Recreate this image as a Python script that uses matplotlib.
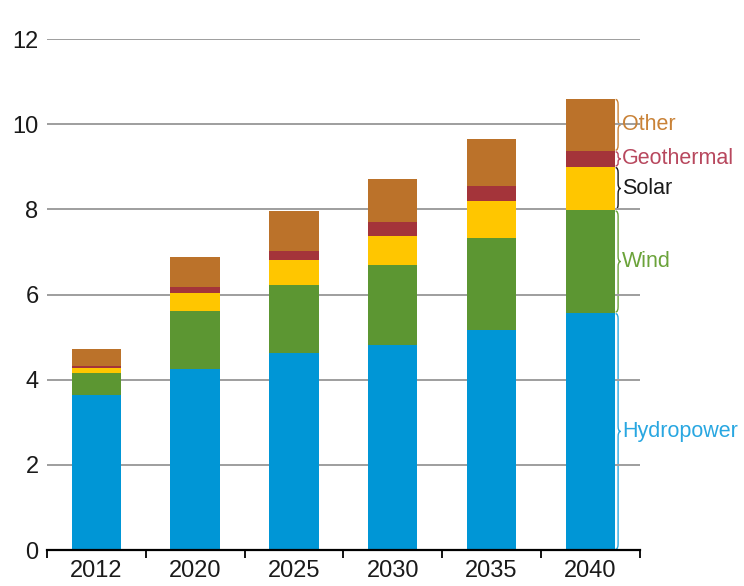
import matplotlib.pyplot as plt
from matplotlib.path import Path
from matplotlib.patches import PathPatch

plt.rcParams['font.family'] = ['Liberation Sans', 'DejaVu Sans']

years = ["2012", "2020", "2025", "2030", "2035", "2040"]
hydropower = [3.64, 4.25, 4.62, 4.81, 5.16, 5.57]
wind = [0.51, 1.37, 1.60, 1.88, 2.16, 2.41]
solar = [0.12, 0.41, 0.60, 0.68, 0.87, 1.02]
geothermal = [0.05, 0.14, 0.20, 0.33, 0.35, 0.37]
other = [0.40, 0.71, 0.94, 1.01, 1.11, 1.23]

series = [
    ("Hydropower", hydropower, "#0096D6", "#29A7E1"),
    ("Wind", wind, "#5C9632", "#6BA33A"),
    ("Solar", solar, "#FFC600", "#1A1A1A"),
    ("Geothermal", geothermal, "#A4343A", "#B8485E"),
    ("Other", other, "#BB722A", "#C98237"),
]


def brace(ax, x, y0, y1, color, w=0.025):
    # curly brace opening to the left, pointing right
    ym = (y0 + y1) / 2
    h = (y1 - y0)
    k = min(0.12, h * 0.2)
    verts = [
        (x, y0), (x + w, y0), (x + w, y0 + k), (x + w, y0 + k),
        (x + w, ym - k), (x + w, ym), (x + 2 * w, ym),
        (x + w, ym), (x + w, ym + k), (x + w, ym + k),
        (x + w, y1 - k), (x + w, y1), (x, y1),
    ]
    codes = [Path.MOVETO, Path.CURVE3, Path.CURVE3, Path.LINETO,
             Path.LINETO, Path.CURVE3, Path.CURVE3,
             Path.CURVE3, Path.CURVE3, Path.LINETO,
             Path.LINETO, Path.CURVE3, Path.CURVE3]
    ax.add_patch(PathPatch(Path(verts, codes), fill=False, edgecolor=color,
                           lw=1.0, clip_on=False))


fig = plt.figure(figsize=(7.44, 5.86), dpi=100)
ax = fig.add_axes([0.063, 0.0614, 0.797, 0.872])

x = list(range(len(years)))
bottom = [0.0] * len(years)
for name, vals, col, lcol in series:
    ax.bar(x, vals, width=0.5, bottom=bottom, color=col, zorder=2)
    # brace + label alongside last bar
    y0 = bottom[-1]
    y1 = bottom[-1] + vals[-1]
    brace(ax, 5.255, y0 + 0.02, y1 - 0.02, lcol)
    ax.text(5.32, (y0 + y1) / 2, name, color=lcol, fontsize=15.5,
            va='center', ha='left', clip_on=False)
    bottom = [b + v for b, v in zip(bottom, vals)]

ax.set_xlim(-0.49, 5.5)
ax.set_ylim(0, 12)
ax.set_yticks(range(0, 13, 2))
ax.set_xticks(x)
ax.set_xticklabels(years)
ax.set_xticks([i - 0.5 for i in range(len(years) + 1)], minor=True)
ax.tick_params(axis='x', which='major', length=0, labelsize=17, pad=7,
               labelcolor='#1A1A1A')
ax.tick_params(axis='x', which='minor', length=6, width=1.3, color='black')
ax.tick_params(axis='y', length=0, labelsize=17, pad=6, labelcolor='#1A1A1A')

for yv in range(2, 13, 2):
    ax.axhline(yv, color='#9E9E9E', lw=1.4, zorder=1)

for s in ['top', 'right', 'left']:
    ax.spines[s].set_visible(False)
ax.spines['bottom'].set_linewidth(1.6)
ax.spines['bottom'].set_zorder(3)

fig.savefig("out.png", dpi=100)
